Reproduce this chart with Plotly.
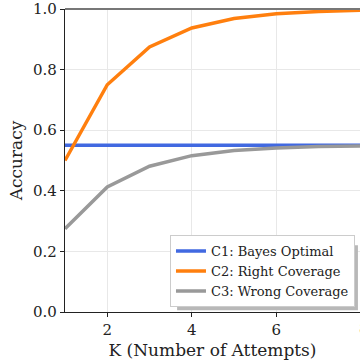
import plotly.graph_objects as go

k = [1, 2, 3, 4, 5, 6, 7, 8]
c1_bayes = [0.55, 0.55, 0.55, 0.55, 0.55, 0.55, 0.55, 0.55]
c2_right = [0.5, 0.75, 0.875, 0.9375, 0.96875, 0.984, 0.992, 0.996]
c3_wrong = [0.275, 0.4125, 0.481, 0.516, 0.533, 0.541, 0.546, 0.548]
names = ["C1: Bayes Optimal", "C2: Right Coverage", "C3: Wrong Coverage"]
colors = ["#4169e1", "#ff7f0e", "#999999"]
x_ticks = [2, 4, 6, 8]
y_ticks = [0, 0.2, 0.4, 0.6, 0.8, 1.0]

fig = go.Figure()
for y, n, c in zip([c1_bayes, c2_right, c3_wrong], names, colors):
    fig.add_trace(go.Scatter(x=k, y=y, mode="lines", name=n,
                             line=dict(color=c, width=3.5)))

font = "DejaVu Serif, serif"
fig.update_layout(
    width=360, height=360,
    margin=dict(l=65, r=0, t=7, b=48),
    paper_bgcolor="white", plot_bgcolor="white",
    font=dict(family=font, color="#222222"),
    showlegend=True,
    legend=dict(x=0.983, y=0.016, xanchor="right", yanchor="bottom",
                bgcolor="white", bordercolor="#cccccc", borderwidth=1,
                font=dict(family=font, size=13, color="#222222"),
                tracegroupgap=0, itemwidth=30),
    xaxis=dict(range=[1, 7.98], tickvals=x_ticks[:-1],
               showgrid=True, gridcolor="#e8e8e8", gridwidth=1,
               showline=True, linecolor="#222222", linewidth=1.2,
               ticks="outside", ticklen=4, tickcolor="#222222",
               tickfont=dict(size=15, family=font), ticklabeloverflow="allow",
               title=dict(text="K (Number of Attempts)", font=dict(size=17, family=font), standoff=6),
               zeroline=False),
    yaxis=dict(range=[0, 1], tickvals=y_ticks, tickformat=".1f",
               showgrid=True, gridcolor="#e8e8e8", gridwidth=1,
               showline=True, linecolor="#222222", linewidth=1.2,
               ticks="outside", ticklen=4, tickcolor="#222222",
               tickfont=dict(size=15, family=font), ticklabeloverflow="allow",
               title=dict(text="Accuracy", font=dict(size=17, family=font), standoff=6),
               zeroline=False),
    shapes=[dict(type="line", xref="paper", yref="paper", x0=0, x1=1, y0=1, y1=1,
                 line=dict(color="#777777", width=2), layer="above"),
            dict(type="rect", xref="paper", yref="paper", x0=0.38, x1=0.993, y0=0.006, y1=0.22,
                 line=dict(width=0), fillcolor="#b8b8b8", layer="above")],
    annotations=[dict(x=1, xref="paper", y=0, yref="paper", text=str(x_ticks[-1]),
                      showarrow=False, xanchor="center", yanchor="top", xshift=4, yshift=-6,
                      font=dict(size=15, family=font, color="#222222"))],
)
fig.write_html("out.html")
